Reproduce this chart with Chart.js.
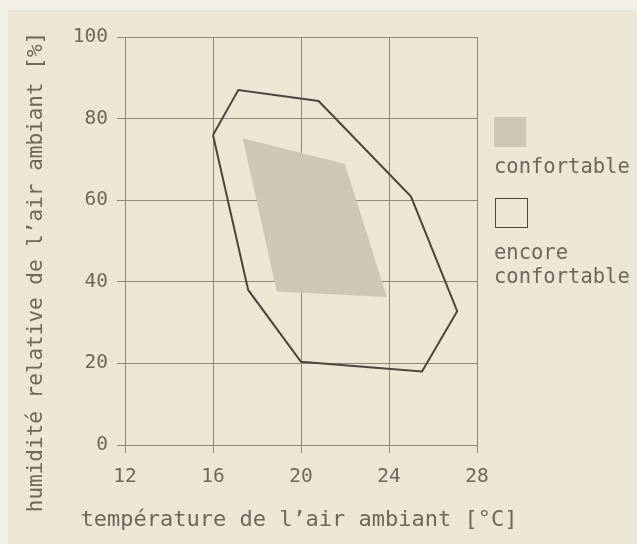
<!DOCTYPE html>
<html>
<head>
<meta charset="utf-8">
<script src="https://cdn.jsdelivr.net/npm/chart.js@4/dist/chart.umd.min.js"></script>
<style>
  html, body { margin: 0; padding: 0; background: #f3f0e6; }
  #wrap { position: relative; width: 637px; height: 544px; overflow: hidden; }
  #bg { position: absolute; left: 8px; top: 10px; right: 0; bottom: 0; background: #ebe6d5; }
  canvas { position: absolute; left: 0; top: 0; }
  .lg { position: absolute; font-family: "DejaVu Sans Mono", monospace; font-size: 20.5px; color: #6e675b; line-height: 24px; white-space: nowrap; }
  .sw { position: absolute; box-sizing: border-box; }
</style>
</head>
<body>
<div id="wrap">
  <div id="bg"></div>
  <canvas id="c" width="637" height="544"></canvas>
  <div class="sw" style="left:494px;top:117px;width:32px;height:30px;background:#cec7b7;"></div>
  <div class="lg" style="left:494px;top:154px;">confortable</div>
  <div class="sw" style="left:495px;top:198px;width:33px;height:30px;border:1.5px solid #4d453b;"></div>
  <div class="lg" style="left:494px;top:240px;">encore<br>confortable</div>
</div>
<script>
// Data
const xTicks = [12, 16, 20, 24, 28];
const yTicks = [0, 20, 40, 60, 80, 100];
const outerTemp = [16, 17.15, 20.8, 25.0, 27.1, 25.5, 20.0, 17.6, 16];
const outerHum  = [76, 87, 84.3, 60.9, 32.8, 18.0, 20.4, 38.0, 76];
const innerTemp = [17.35, 22.0, 23.9, 18.9, 17.35];
const innerHum  = [75.2, 68.9, 36.3, 37.6, 75.2];
const xTitle = "température de l’air ambiant [°C]";
const yTitle = "humidité relative de l’air ambiant [%]";
const legendLabels = ["confortable", "encore confortable"];

const toPts = (xs, ys) => xs.map((x, i) => ({ x: x, y: ys[i] }));

const textColor = '#6e675b';
const gridColor = '#8f897a';
const mono = '"DejaVu Sans Mono", monospace';

// Axis titles drawn without Chart.js' maxWidth squeeze
const axisTitles = {
  id: 'axisTitles',
  afterDraw(chart, args, opts) {
    const ctx = chart.ctx;
    const area = chart.chartArea;
    ctx.save();
    ctx.fillStyle = opts.color;
    ctx.textAlign = 'center';
    ctx.textBaseline = 'middle';
    ctx.font = '22px ' + mono;
    ctx.fillText(opts.x, (area.left + area.right) / 2 - 2, 520);
    ctx.translate(37, 272);
    ctx.rotate(-Math.PI / 2);
    ctx.font = '21px ' + mono;
    ctx.fillText(opts.y, 0, 0);
    ctx.restore();
  }
};

new Chart(document.getElementById('c'), {
  type: 'scatter',
  data: {
    datasets: [
      {
        label: legendLabels[0],
        data: toPts(innerTemp, innerHum),
        showLine: true,
        fill: 'shape',
        backgroundColor: '#cec7b7',
        borderColor: 'rgba(0,0,0,0)',
        borderWidth: 0,
        pointRadius: 0,
        tension: 0,
        order: 2
      },
      {
        label: legendLabels[1],
        data: toPts(outerTemp, outerHum),
        showLine: true,
        fill: false,
        borderColor: '#4d453b',
        borderWidth: 2,
        pointRadius: 0,
        tension: 0,
        borderJoinStyle: 'miter',
        order: 1
      }
    ]
  },
  options: {
    responsive: false,
    devicePixelRatio: 1,
    animation: false,
    layout: { padding: { left: 0, top: 37, right: 160, bottom: 0 } },
    plugins: {
      legend: { display: false },
      tooltip: { enabled: false },
      axisTitles: { x: xTitle, y: yTitle, color: textColor }
    },
    scales: {
      x: {
        type: 'linear',
        min: xTicks[0],
        max: xTicks[xTicks.length - 1],
        afterBuildTicks: (s) => { s.ticks = xTicks.map(v => ({ value: v })); },
        afterFit: (s) => { s.height = 99; },
        ticks: { color: textColor, font: { family: mono, size: 19.5 }, padding: 12, maxRotation: 0 },
        grid: { color: gridColor, lineWidth: 1, tickLength: 8, tickColor: gridColor },
        border: { color: gridColor, width: 1 },
        title: { display: false, text: xTitle }
      },
      y: {
        type: 'linear',
        min: yTicks[0],
        max: yTicks[yTicks.length - 1],
        afterBuildTicks: (s) => { s.ticks = yTicks.map(v => ({ value: v })); },
        afterFit: (s) => { s.width = 125; },
        ticks: { color: textColor, font: { family: mono, size: 19.5 }, padding: 9 },
        grid: { color: gridColor, lineWidth: 1, tickLength: 8, tickColor: gridColor },
        border: { color: gridColor, width: 1 },
        title: { display: false, text: yTitle }
      }
    }
  },
  plugins: [axisTitles]
});
</script>
</body>
</html>
